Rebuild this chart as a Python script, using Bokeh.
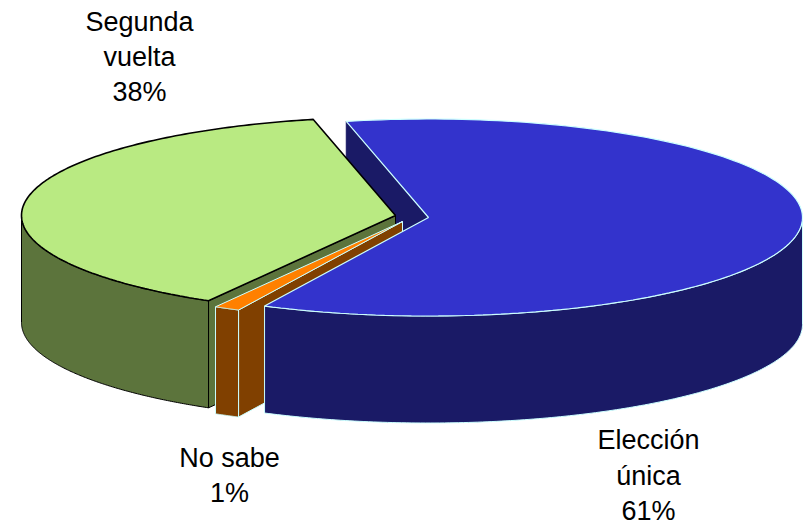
import math
import numpy as np
from bokeh.plotting import figure
from bokeh.embed import file_html
from bokeh.resources import INLINE
from bokeh.core.properties import value

categories = ["Elección única", "No sabe", "Segunda vuelta"]
shares = [60.75, 1.11, 38.14]
label_lines = [["Elección", "única", "61%"], ["No sabe", "1%"], ["Segunda", "vuelta", "38%"]]

TOP = ["#3333CC", "#FF8000", "#B9EA82"]
SIDE = ["#1A1A66", "#804000", "#5C743C"]
EDGE = ["#CCFFFF", "#CCFFFF", "#000000"]
CENTER = [(428, 217), (402, 221), (395, 215)]
A, B, DEPTH = 374, 98.5, 107
START = 102.7


def arc(c, t0, t1, dy=0):
    ts = np.radians(np.linspace(t0, t1, 160))
    return list(c[0] + A * np.cos(ts)), list(c[1] - B * np.sin(ts) + dy)


def rim(c, t, dy=0):
    r = math.radians(t)
    return c[0] + A * math.cos(r), c[1] - B * math.sin(r) + dy


spans, t = [], START
for s in shares:
    spans.append((t, t - s * 3.6))
    t -= s * 3.6

p = figure(width=804, height=525, x_range=(0, 804), y_range=(525, 0),
           output_backend="svg", toolbar_location=None, min_border=0,
           outline_line_color=None, background_fill_color="white")
p.axis.visible = False
p.grid.visible = False


def poly(xs, ys, fill, line, width=1.0, **kw):
    p.patch(xs, ys, fill_color=fill, line_color=line, line_width=width, **kw)


def cut_wall(i, t, line):
    c = CENTER[i]
    x, y = rim(c, t)
    poly([c[0], x, x, c[0]], [c[1], y, y + DEPTH, c[1] + DEPTH], SIDE[i], line, 1.0)


def outer_wall(i, t0, t1):
    x0, y0 = arc(CENTER[i], t0, t1)
    x1, y1 = arc(CENTER[i], t0, t1, DEPTH)
    poly(x0 + x1[::-1], y0 + y1[::-1], SIDE[i], EDGE[i], 1.0)


def top(i, width):
    c = CENTER[i]
    x, y = arc(c, *spans[i])
    poly([c[0]] + x, [c[1]] + y, TOP[i], EDGE[i], width)


# blue back cut wall, then green, orange, blue front to back
cut_wall(0, spans[0][0], SIDE[0])
cut_wall(2, spans[2][0], "#000000")
outer_wall(2, spans[2][0], -180)
top(2, 1.6)
cut_wall(1, spans[1][0], EDGE[1])
outer_wall(1, *spans[1])
top(1, 1.0)
outer_wall(0, 0, spans[0][1])
top(0, 1.2)

FONT = value("Liberation Sans")
for lines, cx, ys in zip(label_lines, [648, 229, 139], [[439, 475, 510], [457, 492], [21, 56, 91]]):
    p.text(x=[cx] * len(lines), y=ys, text=lines, text_font=FONT, text_font_size="27px",
           text_align="center", text_baseline="middle", text_color="#000000")

open("out.html", "w").write(file_html(p, INLINE))
